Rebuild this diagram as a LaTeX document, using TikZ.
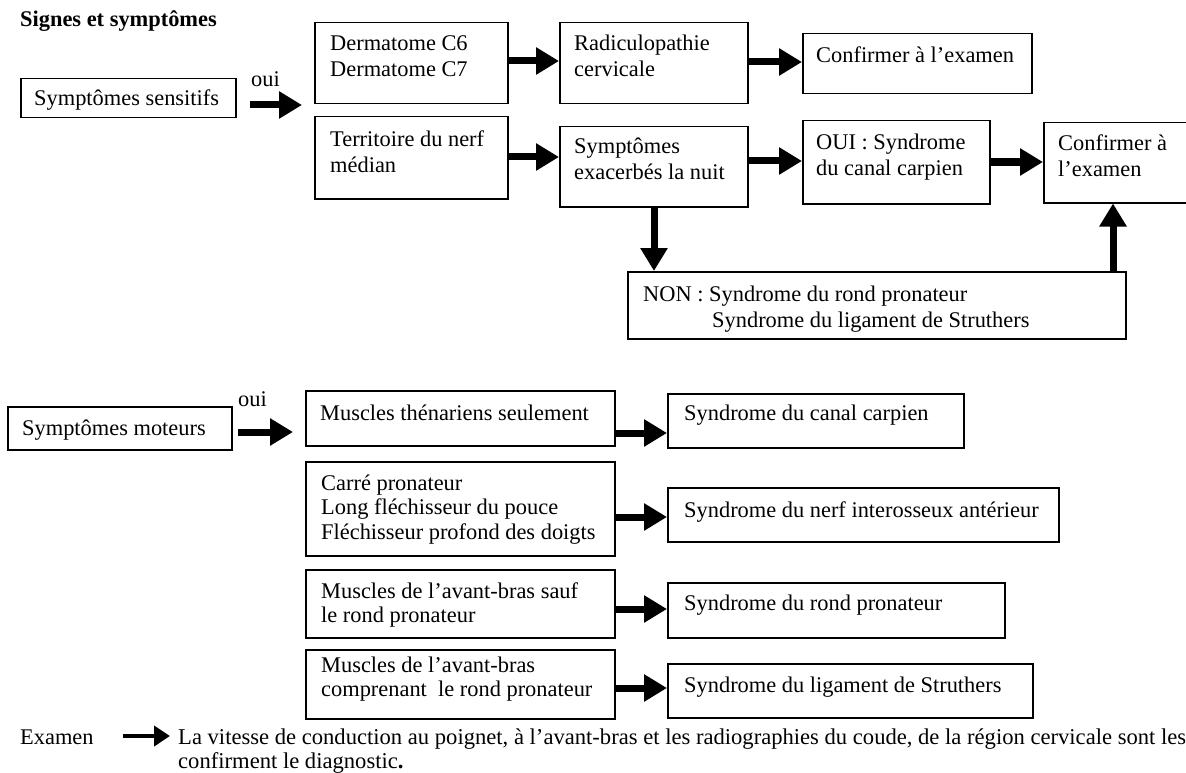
\documentclass[tikz,border=0pt]{standalone}
\usepackage{fontspec}
\setmainfont{Liberation Serif}
\usetikzlibrary{arrows.meta}
\newcommand{\tst}{\rule{0pt}{20pt}}
\newcommand{\bx}[5]{\node[boxst, minimum width={(#4)-(#2)}, minimum height={(#5)-(#3)}] (#1) at (#2,#3) {};}
\newcommand{\tx}[5][]{\node[txt,#1] (#2) at (#3,#4-20) {\tst#5};}
\begin{document}
\begin{tikzpicture}[x=1pt,y=-1pt,
  boxst/.style={draw, line width=1.5pt, inner sep=0pt, anchor=north west},
  txt/.style={inner sep=0pt, anchor=north west, align=left, font=\fontsize{22.4}{26}\selectfont},
  txtb/.style={font=\fontsize{22.4}{24.5}\selectfont},
  arr/.style={line width=7pt, -{Triangle[length=23pt,width=26pt]}},
  thinarr/.style={line width=4.5pt, -{Triangle[length=16pt,width=20pt]}},
]
\useasboundingbox (0,0) rectangle (1186,773);

% ---------- top part ----------
\tx[font=\bfseries\fontsize{22.4}{26}\selectfont]{title}{20}{26}{Signes et symptômes}

\bx{sens}{20}{78}{235}{117}
\tx{sensT}{34}{105}{Symptômes sensitifs}
\tx{oui1}{251}{86}{oui}
\coordinate (a1s) at (250,105);
\coordinate (a1e) at (302,105);
\draw[arr] (a1s) -- (a1e);

\bx{derm}{314}{22}{507}{103}
\tx{dermT}{330}{50}{Dermatome C6\\Dermatome C7}
\bx{terr}{314}{116}{507}{198}
\tx{terrT}{330}{146}{Territoire du nerf\\médian}

\bx{rad}{559}{22}{747}{103}
\tx{radT}{574}{50}{Radiculopathie\\cervicale}
\bx{symp}{559}{126}{747}{206}
\tx{sympT}{574}{153}{Symptômes\\exacerbés la nuit}

\bx{conf1}{802}{33}{1031}{93}
\tx{conf1T}{816}{62}{Confirmer à l’examen}
\bx{ouib}{802}{120}{989}{203}
\tx{ouibT}{816}{149}{OUI : Syndrome\\du canal carpien}
\bx{conf2}{1043}{122}{1200}{202}
\tx{conf2T}{1058}{150}{Confirmer à\\l’examen}

\bx{non}{627}{271}{1125}{338}
\tx{nonT}{643}{301}{NON : Syndrome du rond pronateur}
\tx{nonT2}{712}{327}{Syndrome du ligament de Struthers}

\draw[arr] (derm.east |- 0,61) -- (rad.west |- 0,61);
\draw[arr] (rad.east |- 0,62) -- (conf1.west |- 0,62);
\draw[arr] (terr.east |- 0,157) -- (symp.west |- 0,157);
\draw[arr] (symp.east |- 0,161) -- (ouib.west |- 0,161);
\draw[arr] (ouib.east |- 0,162) -- (conf2.west |- 0,162);
\draw[arr] (symp.south -| 654,0) -- (non.north -| 654,0);
\draw[arr] (non.north -| 1113,0) -- (conf2.south -| 1113,0);

% ---------- bottom part ----------
\bx{mot}{7}{406}{231}{449}
\tx{motT}{22}{435}{Symptômes moteurs}
\tx{oui2}{238}{406}{oui}
\coordinate (a2s) at (238,432);
\coordinate (a2e) at (293,432);
\draw[arr] (a2s) -- (a2e);

\bx{then}{305}{390}{614}{445}
\tx{thenT}{320}{420}{Muscles thénariens seulement}
\bx{canal}{667}{393}{963}{447}
\tx{canalT}{684}{420}{Syndrome du canal carpien}

\bx{carre}{305}{461}{614}{555}
\tx[txtb]{carreT}{321}{490}{Carré pronateur\\Long fléchisseur du pouce\\Fléchisseur profond des doigts}
\bx{inter}{667}{487}{1058}{541}
\tx{interT}{684}{517}{Syndrome du nerf interosseux antérieur}

\bx{sauf}{305}{569}{614}{637}
\tx[txtb]{saufT}{321}{598}{Muscles de l’avant-bras sauf\\le rond pronateur}
\bx{rond}{667}{582}{1004}{637}
\tx{rondT}{684}{610}{Syndrome du rond pronateur}

\bx{compr}{305}{649}{614}{718}
\tx[txtb]{comprT}{321}{672}{Muscles de l’avant-bras\\comprenant~ le rond pronateur}
\bx{lig}{667}{663}{1032}{717}
\tx{ligT}{684}{692}{Syndrome du ligament de Struthers}

\draw[arr] (then.east |- 0,433) -- (canal.west |- 0,433);
\draw[arr] (carre.east |- 0,517) -- (inter.west |- 0,517);
\draw[arr] (sauf.east |- 0,609) -- (rond.west |- 0,609);
\draw[arr] (compr.east |- 0,688) -- (lig.west |- 0,688);

% ---------- examen ----------
\tx{exam}{20}{744}{Examen}
\coordinate (a3s) at (123,736);
\coordinate (a3e) at (170,736);
\draw[thinarr] (a3s) -- (a3e);
\tx[font=\fontsize{22.6}{24.5}\selectfont]{examT}{178}{744}{La vitesse de conduction au poignet, à l’avant-bras et les radiographies du coude, de la région cervicale sont les\\confirment le diagnostic\textbf{.}}
\end{tikzpicture}
\end{document}
